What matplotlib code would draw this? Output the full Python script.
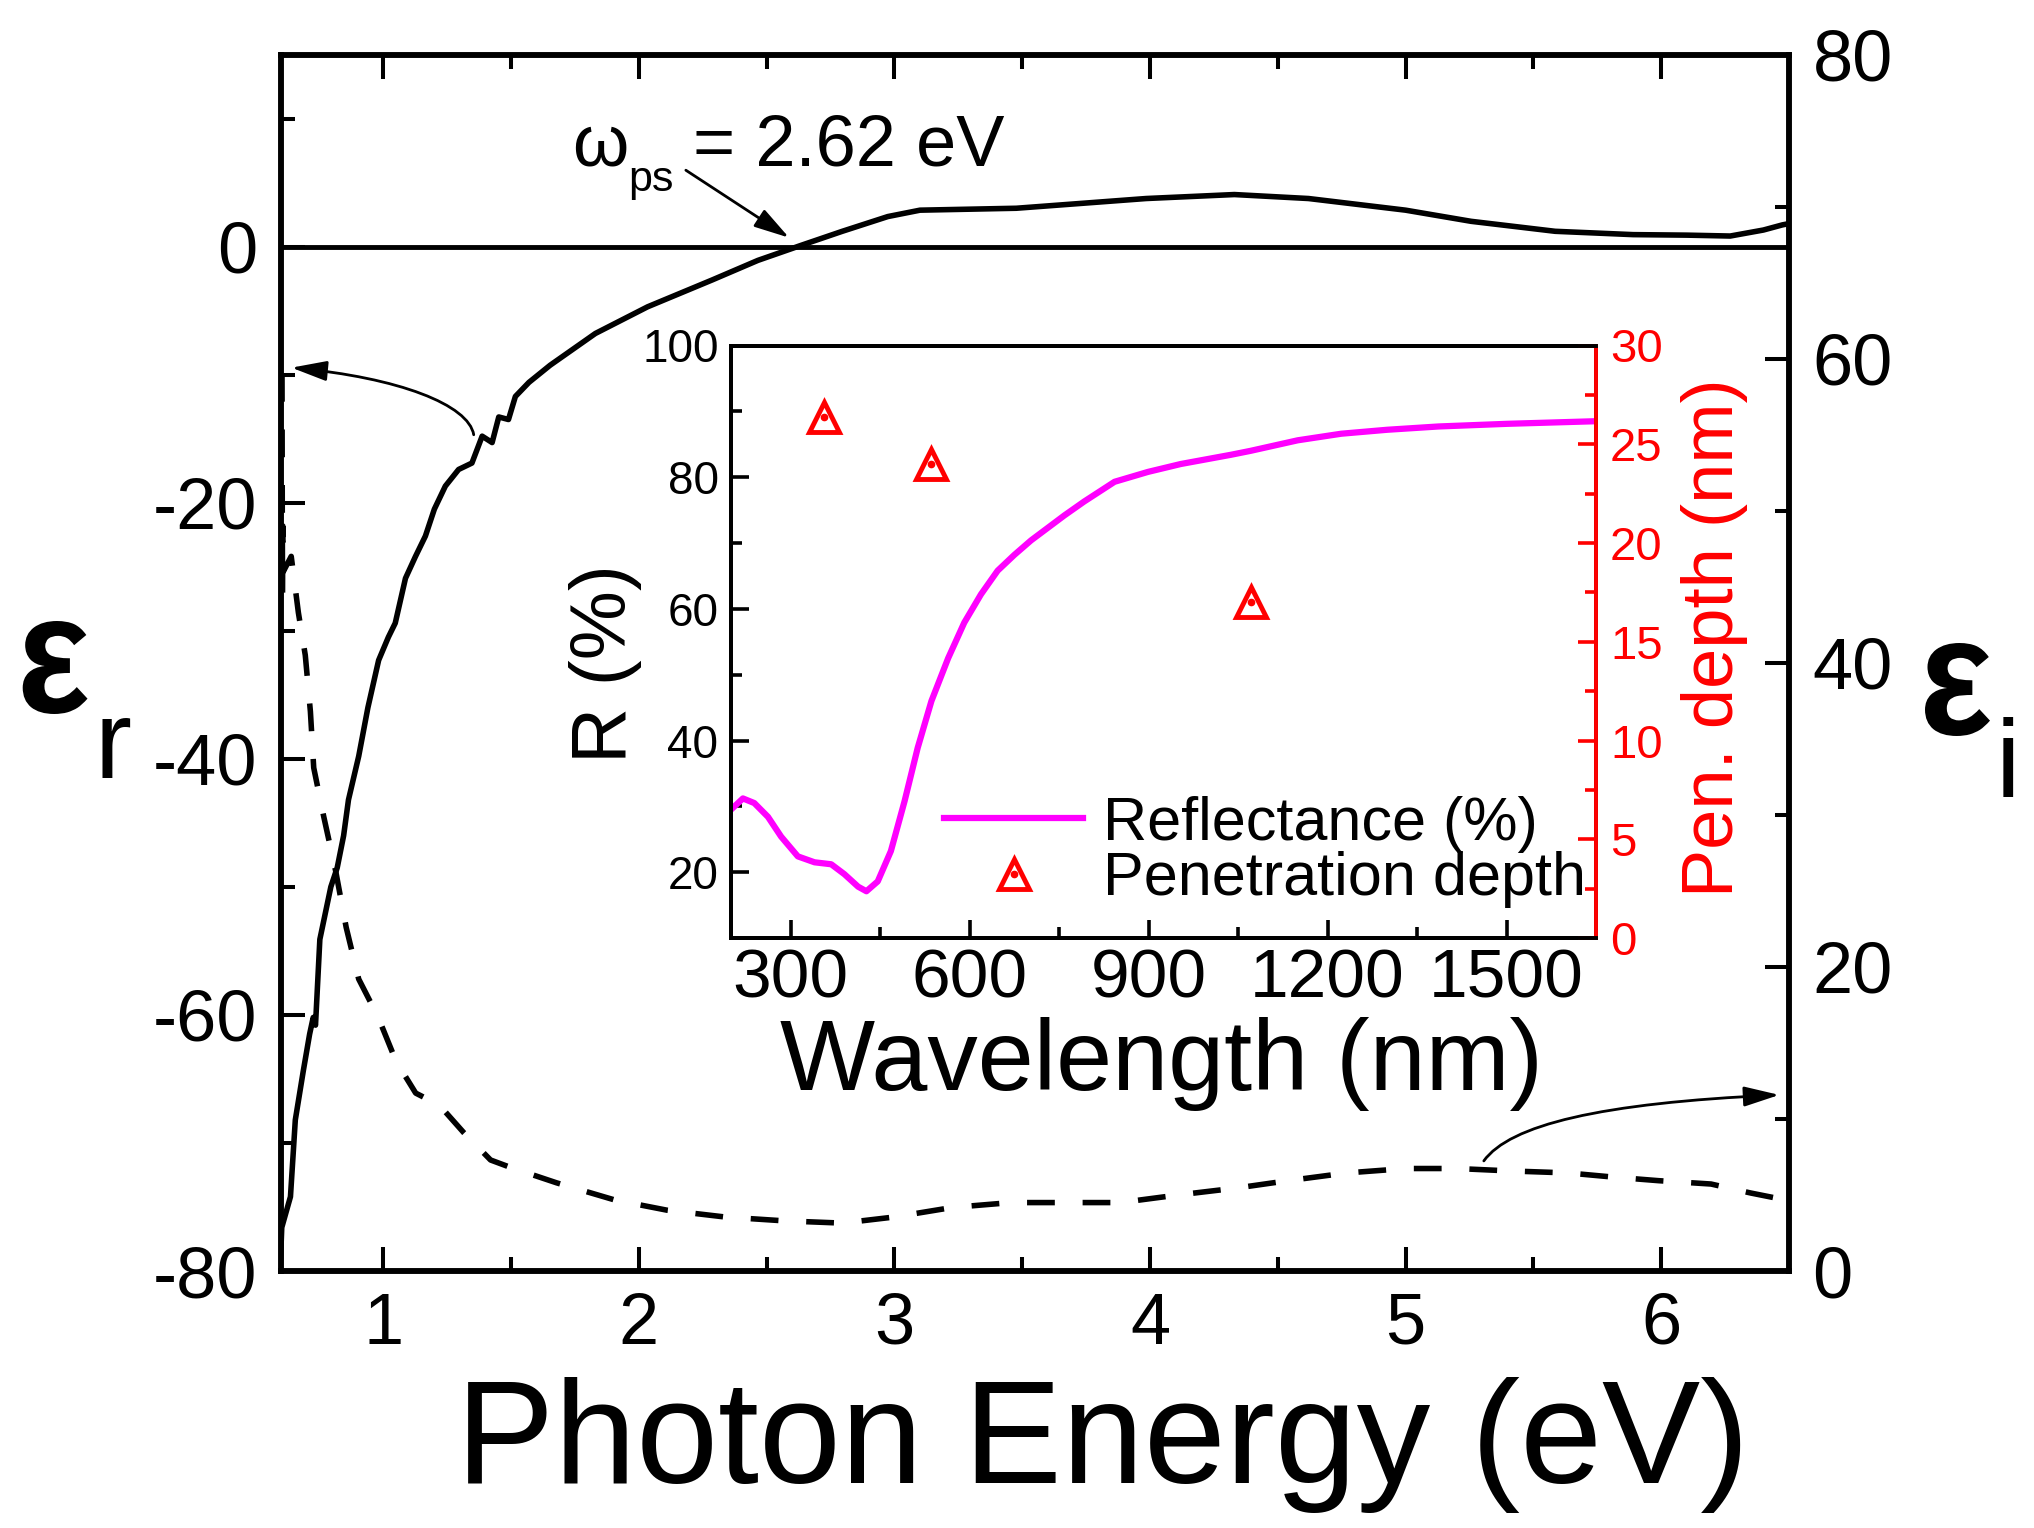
import matplotlib
matplotlib.use("Agg")
import matplotlib.pyplot as plt
import matplotlib.transforms as mtransforms
from matplotlib.font_manager import FontProperties
from matplotlib.lines import Line2D
from matplotlib.patches import FancyArrowPatch, PathPatch
from matplotlib.path import Path
from matplotlib.textpath import TextPath
from matplotlib.ticker import MultipleLocator

plt.rcParams['font.family'] = ['Liberation Sans', 'DejaVu Sans']
plt.rcParams['axes.unicode_minus'] = False

# --- main data: real part eps_r (solid) vs photon energy
energy_r = [0.597, 0.603, 0.637, 0.656, 0.687, 0.712, 0.726, 0.735, 0.752, 0.795, 0.82, 0.845,
            0.864, 0.904, 0.94, 0.982, 1.02, 1.047, 1.087, 1.126, 1.165, 1.20, 1.243, 1.295,
            1.347, 1.387, 1.426, 1.452, 1.49, 1.517, 1.57, 1.653, 1.83, 2.034, 2.287, 2.466,
            2.63, 2.796, 2.974, 3.10, 3.477, 3.985, 4.33, 4.62, 5.0, 5.256, 5.585, 5.89,
            6.1, 6.27, 6.40, 6.474, 6.5]
eps_r = [-79.7, -76.6, -74.2, -68.2, -64.4, -61.5, -60.2, -60.8, -54.1, -50.0, -48.5, -46.0,
         -43.2, -39.8, -36.0, -32.3, -30.5, -29.4, -25.9, -24.2, -22.6, -20.5, -18.7, -17.4,
         -16.9, -14.8, -15.3, -13.3, -13.5, -11.7, -10.6, -9.26, -6.78, -4.7, -2.6, -1.07,
         0.07, 1.2, 2.35, 2.85, 3.0, 3.76, 4.07, 3.76, 2.85, 1.98, 1.2, 0.94,
         0.9, 0.83, 1.3, 1.7, 1.8]

# --- imaginary part eps_i (dashed, right axis)
energy_i = [0.604, 0.605, 0.606, 0.607, 0.609, 0.64, 0.668, 0.695, 0.715, 0.728, 0.767, 0.814,
            0.855, 0.904, 0.98, 1.05, 1.127, 1.22, 1.315, 1.42, 1.5, 1.678, 1.906, 2.11,
            2.338, 2.567, 2.796, 2.999, 3.227, 3.456, 3.65, 3.884, 4.11, 4.34, 4.54, 4.77,
            5.0, 5.2, 5.41, 5.635, 5.81, 5.99, 6.195, 6.35, 6.487]
eps_i = [59.0, 50.0, 44.5, 49.0, 46.0, 47.0, 43.3, 40.5, 36.8, 33.1, 29.9, 26.3,
         22.6, 19.2, 16.7, 13.8, 11.7, 10.9, 9.1, 7.3, 6.8, 5.8, 4.67, 4.0,
         3.55, 3.3, 3.15, 3.55, 4.18, 4.5, 4.5, 4.5, 5.0, 5.46, 5.94, 6.45,
         6.74, 6.74, 6.58, 6.45, 6.18, 5.94, 5.72, 5.13, 4.67]

# --- inset: reflectance and penetration depth
wavelength = [200, 220, 239, 262, 284, 312, 340, 368, 390, 413, 427, 446, 468, 491, 513, 536,
              564, 591, 619, 647, 675, 703, 731, 759, 792, 843, 899, 954, 1038, 1071, 1150,
              1223, 1300, 1386, 1500, 1650]
reflectance = [29.5, 31.2, 30.5, 28.4, 25.4, 22.4, 21.5, 21.2, 19.7, 17.8, 17.1, 18.6, 23.2,
               30.8, 38.9, 46.0, 52.5, 57.9, 62.2, 65.8, 68.2, 70.4, 72.3, 74.2, 76.3, 79.3,
               80.8, 82.0, 83.4, 84.0, 85.6, 86.6, 87.2, 87.7, 88.1, 88.5]
wl_depth = [356, 535, 1071]
pen_depth = [26.4, 24.0, 17.0]

W, H = 2034, 1528
fig = plt.figure(figsize=(W / 100, H / 100), dpi=100)


def fx(px):
    return px / W


def fy(py):
    return 1 - py / H


def glyph_in_box(ch, x0, x1, y0, y1):
    # bold epsilon scaled to fill a pixel box (image coords, y down)
    tp = TextPath((0, 0), ch, size=100, prop=FontProperties(family='Liberation Sans', weight='bold'))
    ext = tp.get_extents()
    sx = (x1 - x0) / ext.width
    sy = (y1 - y0) / ext.height
    tr = mtransforms.Affine2D().translate(-ext.x0, -ext.y0).scale(sx, sy).translate(x0, H - y1)
    fig.add_artist(PathPatch(tp, transform=tr, color='k', lw=0))


# main axes
ax = fig.add_axes([fx(281), fy(1271), (1789 - 281) / W, (1271 - 54.6) / H])
ax.plot(energy_r, eps_r, color='k', lw=4, solid_joinstyle='round')
ax.axhline(0, color='k', lw=3.5)
ax.set_xlim(0.6, 6.5)
ax.set_ylim(-80, 15)
ax.set_xticks([1, 2, 3, 4, 5, 6])
ax.xaxis.set_minor_locator(MultipleLocator(0.5))
ax.set_yticks([-80, -60, -40, -20, 0])
ax.set_yticks([-70, -50, -30, -10, 10], minor=True)
ax.tick_params(which='both', direction='in', top=True, right=False, width=2.9)
ax.tick_params(which='major', length=17, labelsize=52)
ax.tick_params(which='minor', length=10)
ax.tick_params(axis='y', pad=17)
ax.tick_params(axis='x', pad=15)

ax2 = ax.twinx()
ax2.plot(energy_i, eps_i, color='k', lw=4, dashes=(5, 5))
ax2.set_ylim(0, 80)
ax2.set_yticks([0, 20, 40, 60, 80])
ax2.yaxis.set_minor_locator(MultipleLocator(10))
ax2.tick_params(which='both', direction='in', width=2.9, pad=17)
ax2.tick_params(which='major', length=17, labelsize=52)
ax2.tick_params(which='minor', length=10)
for a in (ax, ax2):
    for s in a.spines.values():
        s.set_linewidth(4)

# arrows
head = '-|>,head_length=0.6,head_width=0.17'
ax.annotate('', xy=(2.588, 0.7), xytext=(2.184, 5.97),
            arrowprops=dict(arrowstyle=head, color='k', lw=2, mutation_scale=36,
                            shrinkA=0, shrinkB=0))
curve1 = Path([(1.354, -14.69), (1.334, -12.34), (1.060, -10.23), (0.641, -9.45)],
              [Path.MOVETO, Path.CURVE4, Path.CURVE4, Path.CURVE4])
ax.add_patch(FancyArrowPatch(path=curve1, arrowstyle=head, mutation_scale=36, color='k',
                             lw=2, transform=ax.transData))
curve2 = Path([(5.306, 7.24), (5.408, 9.61), (5.761, 11.05), (6.462, 11.58)],
              [Path.MOVETO, Path.CURVE4, Path.CURVE4, Path.CURVE4])
ax2.add_patch(FancyArrowPatch(path=curve2, arrowstyle=head, mutation_scale=36, color='k',
                              lw=2, transform=ax2.transData))

# plasma frequency label
fig.text(fx(572), fy(165), '\u03c9', fontsize=52, ha='left', va='baseline')
fig.text(fx(628), fy(191), 'ps', fontsize=31, ha='left', va='baseline')
fig.text(fx(693), fy(166), '= 2.62 eV', fontsize=52, ha='left', va='baseline')

# axis labels
fig.text(fx(1103), fy(1483), 'Photon Energy (eV)', fontsize=106, ha='center', va='baseline')
glyph_in_box('\u03b5', 22.7, 87.5, 621, 714)
fig.text(fx(94), fy(778), 'r', fontsize=80, ha='left', va='baseline')
glyph_in_box('\u03b5', 1925, 1990, 643, 736)
fig.text(fx(1996), fy(798), 'i', fontsize=80, ha='left', va='baseline')

# inset
axin = fig.add_axes([fx(731), fy(938), (1596 - 731) / W, (938 - 345.5) / H])
axin.plot(wavelength, reflectance, color='#ff00ff', lw=4.5, solid_joinstyle='round')
axin.set_xlim(200, 1650)
axin.set_ylim(10, 100)
axin.set_xticks([300, 600, 900, 1200, 1500])
axin.xaxis.set_minor_locator(MultipleLocator(150))
axin.set_yticks([20, 40, 60, 80, 100])
axin.yaxis.set_minor_locator(MultipleLocator(10))
axin.tick_params(which='both', direction='in', top=False, right=False, width=2.6)
axin.tick_params(which='major', length=13)
axin.tick_params(which='minor', length=8)
axin.tick_params(axis='x', labelsize=50, pad=7)
axin.tick_params(axis='y', labelsize=33, pad=9)

axin2 = axin.twinx()
axin2.plot(wl_depth, pen_depth, linestyle='none', marker='^', markersize=21,
           markerfacecolor='none', markeredgecolor='red', markeredgewidth=3.5)
axin2.plot(wl_depth, pen_depth, linestyle='none', marker='o', markersize=4.5, color='red')
axin2.set_ylim(0, 30)
axin2.set_yticks([0, 5, 10, 15, 20, 25, 30])
axin2.yaxis.set_minor_locator(MultipleLocator(2.5))
axin2.tick_params(which='both', direction='in', colors='red', width=2.6, pad=10)
axin2.tick_params(which='major', length=13, labelsize=34)
axin2.tick_params(which='minor', length=8)
for a in (axin, axin2):
    for s in a.spines.values():
        s.set_linewidth(2.8)
axin2.spines['right'].set_color('red')

fig.text(fx(1162), fy(1090), 'Wavelength (nm)', fontsize=72.5, ha='center', va='baseline')
fig.text(fx(606), fy(664), 'R (%)', fontsize=56, rotation=90, ha='center', va='center')
fig.text(fx(1714), fy(638), 'Pen. depth (nm)', fontsize=52, rotation=90, color='red',
         ha='center', va='center')

h_line = Line2D([], [], color='#ff00ff', lw=4.5)
h_tri = Line2D([], [], linestyle='none', marker='^', markersize=21, markerfacecolor='none',
               markeredgecolor='red', markeredgewidth=3.5)
h_dot = Line2D([], [], linestyle='none', marker='o', markersize=4.5, color='red')
axin2.legend([h_line, (h_tri, h_dot)], ['Reflectance (%)', 'Penetration depth'],
             loc='center left', bbox_to_anchor=(fx(944), fy(852)),
             bbox_transform=fig.transFigure, frameon=False, fontsize=44,
             handlelength=2.28, handletextpad=0.32, labelspacing=-0.02,
             borderpad=0, borderaxespad=0, numpoints=1)

fig.savefig('out.png', dpi=100)
